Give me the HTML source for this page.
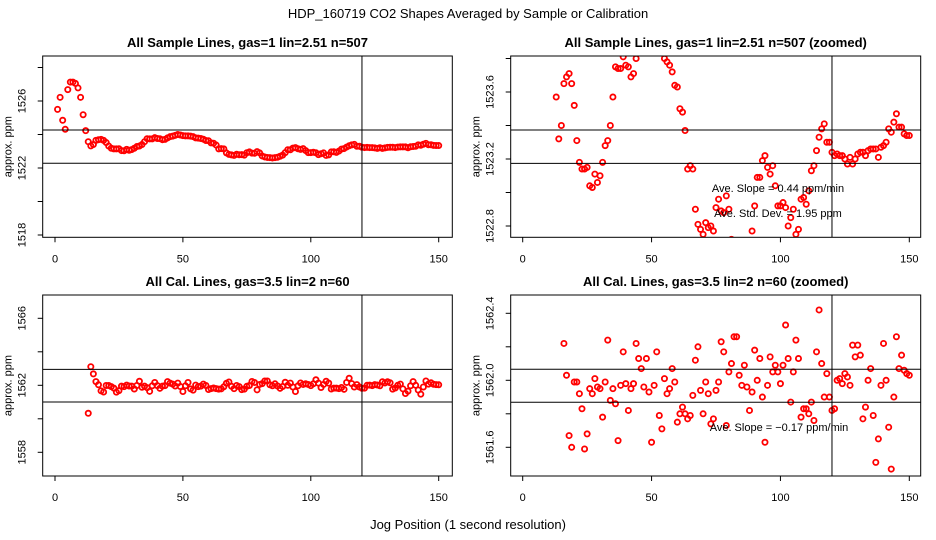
<!DOCTYPE html>
<html><head><meta charset="utf-8"><style>
html,body{margin:0;padding:0;background:#fff;width:936px;height:540px;overflow:hidden;}
svg{display:block;font-family:"Liberation Sans",Arial,sans-serif;}
</style></head><body>
<svg id="chart" width="936" height="540" xmlns="http://www.w3.org/2000/svg">
<text x="468" y="18" text-anchor="middle" font-size="13">HDP_160719  CO2 Shapes Averaged by Sample or Calibration</text>
<text x="468" y="529" text-anchor="middle" font-size="13">Jog Position (1 second resolution)</text>
</svg>
<script>
// Sample data (x = 1..150)
const sampleX = [];
for (let i = 1; i <= 150; i++) sampleX.push(i);
const sampleY = [1525.50,1526.22,1524.85,1524.31,1526.68,1527.13,1527.13,1527.05,1526.78,1526.22,
1525.18,1524.23,1523.57,1523.32,1523.40,1523.65,1523.69,1523.71,1523.65,1523.52,
1523.31,1523.18,1523.14,1523.14,1523.15,1523.04,1523.03,1523.11,1523.06,1523.10,
1523.18,1523.28,1523.31,1523.40,1523.57,1523.75,1523.74,1523.74,1523.81,1523.76,
1523.75,1523.69,1523.71,1523.80,1523.87,1523.90,1523.95,1524.00,1523.97,1523.93,
1523.92,1523.92,1523.90,1523.87,1523.80,1523.78,1523.76,1523.72,1523.64,1523.63,
1523.50,1523.48,1523.37,1523.14,1523.16,1523.14,1522.90,1522.81,1522.78,1522.75,
1522.82,1522.79,1522.80,1522.77,1522.91,1522.96,1522.89,1522.88,1522.98,1522.90,
1522.72,1522.66,1522.63,1522.62,1522.60,1522.62,1522.64,1522.70,1522.77,1522.92,
1523.09,1523.09,1523.19,1523.22,1523.15,1523.11,1523.16,1523.04,1522.92,1522.92,
1522.94,1522.91,1522.80,1522.85,1522.90,1522.75,1522.78,1522.96,1522.97,1522.93,
1523.01,1523.13,1523.16,1523.25,1523.33,1523.38,1523.41,1523.30,1523.30,1523.24,
1523.22,1523.23,1523.22,1523.22,1523.20,1523.17,1523.21,1523.17,1523.20,1523.23,
1523.24,1523.24,1523.22,1523.25,1523.26,1523.26,1523.26,1523.21,1523.27,1523.28,
1523.30,1523.38,1523.36,1523.42,1523.47,1523.39,1523.39,1523.35,1523.34,1523.34];
// Calibration data (x = 13..150)
const calX = [];
for (let i = 13; i <= 150; i++) calX.push(i);
const calY = [1560.33,1563.11,1562.68,1562.22,1562.03,1561.67,1561.60,1561.99,1561.99,1561.92,
1561.83,1561.59,1561.68,1561.95,1561.92,1562.01,1561.96,1561.95,1561.78,1561.99,
1562.24,1561.88,1561.95,1561.86,1561.64,1561.97,1562.17,1561.98,1561.82,1561.95,
1561.98,1562.22,1562.13,1562.07,1561.96,1562.13,1561.93,1561.63,1561.97,1562.17,
1561.79,1561.71,1562.01,1561.92,1561.95,1562.07,1561.99,1561.75,1561.80,1561.84,
1561.80,1561.77,1561.79,1561.91,1562.12,1562.20,1561.94,1561.80,1561.99,1561.92,
1561.74,1561.77,1561.94,1561.99,1562.23,1562.17,1561.73,1562.05,1562.10,1562.26,
1562.26,1562.03,1561.97,1562.09,1561.96,1561.82,1561.93,1562.18,1562.00,1562.13,
1561.90,1561.63,1561.97,1562.14,1562.05,1562.09,1562.05,1561.98,1562.09,1562.33,
1562.13,1561.87,1562.05,1562.24,1562.13,1561.78,1561.83,1561.83,1561.80,1561.87,
1561.76,1562.17,1562.42,1562.10,1561.90,1562.04,1561.90,1561.82,1561.83,1562.00,
1562.01,1561.98,1562.04,1562.02,1561.97,1562.21,1562.14,1562.21,1562.15,1561.77,
1561.84,1562.00,1562.07,1561.79,1561.51,1561.65,1561.97,1562.22,1562.00,1561.72,
1561.47,1561.90,1562.26,1562.07,1562.15,1562.06,1562.04,1562.03];
const xTicks = [0, 50, 100, 150];
const p1Ticks = [1518,1520,1522,1524,1526,1528];
const p1Labels = [1518,1522,1526];
const p1HLines = [1524.27, 1522.28];
const p2Ticks = [1522.8,1523.0,1523.2,1523.4,1523.6,1523.8];
const p2Labels = ["1522.8","1523.2","1523.6"];
const p2HLines = [1523.373, 1523.174];
const p3Ticks = [1558,1560,1562,1564,1566];
const p3Labels = [1558,1562,1566];
const p3HLines = [1562.95, 1561.0];
const p4Ticks = [1561.6,1561.8,1562.0,1562.2,1562.4];
const p4Labels = ["1561.6","1562.0","1562.4"];
const p4HLines = [1562.066, 1561.869];
const vLineX = 120;

const NS = "http://www.w3.org/2000/svg";
const svg = document.getElementById("chart");
function mk(tag, attrs, parent) {
  const e = document.createElementNS(NS, tag);
  for (const k in attrs) e.setAttribute(k, attrs[k]);
  (parent || svg).appendChild(e);
  return e;
}

const panels = [
  {id:"p1", title:"All Sample Lines, gas=1 lin=2.51 n=507", L:42.7, R:452.3, T:56, B:237.3,
   x0:55, x1:438.7, yA:1522, pyA:168, yB:1526, pyB:101, xs:sampleX, ys:sampleY,
   ticks:p1Ticks, labels:p1Labels, hl:p1HLines, ann:[]},
  {id:"p2", title:"All Sample Lines, gas=1 lin=2.51 n=507 (zoomed)", L:510.7, R:920.7, T:56, B:237.3,
   x0:522.7, x1:909.3, yA:1523.2, pyA:159, yB:1523.6, pyB:92, xs:sampleX, ys:sampleY,
   ticks:p2Ticks, labels:p2Labels, hl:p2HLines,
   ann:[["Ave. Slope =  0.44  ppm/min",778,192,"slope-annotation"],["Ave. Std. Dev. =  1.95  ppm",778,217,"stddev-annotation"]]},
  {id:"p3", title:"All Cal. Lines, gas=3.5 lin=2 n=60", L:42.7, R:452.3, T:295, B:476,
   x0:55, x1:438.7, yA:1562, pyA:385.3, yB:1566, pyB:318.3, xs:calX, ys:calY,
   ticks:p3Ticks, labels:p3Labels, hl:p3HLines, ann:[]},
  {id:"p4", title:"All Cal. Lines, gas=3.5 lin=2 n=60 (zoomed)", L:510.7, R:920.7, T:295, B:476,
   x0:522.7, x1:909.3, yA:1562.0, pyA:380.3, yB:1562.4, pyB:313.3, xs:calX, ys:calY,
   ticks:p4Ticks, labels:p4Labels, hl:p4HLines,
   ann:[["Ave. Slope =  \u22120.17  ppm/min",779,431,"slope-annotation"]]}
];

panels.forEach(p => {
  const sx = v => p.x0 + (v - 0) * (p.x1 - p.x0) / 150;
  const sy = v => p.pyA + (v - p.yA) * (p.pyB - p.pyA) / (p.yB - p.yA);
  const g = mk("g", {});
  
  
  const t = mk("text", {x:(p.L+p.R)/2, y:p.T-9, "text-anchor":"middle", "font-size":"13", "font-weight":"bold"}, g);
  t.textContent = p.title;
  
  
  const cp = mk("clipPath", {id:"clip-"+p.id}, g);
  mk("rect", {x:p.L, y:p.T, width:p.R-p.L, height:p.B-p.T}, cp);
  const pg = mk("g", {"clip-path":"url(#clip-"+p.id+")"}, g);
  
  
  p.xs.forEach((xv, i) => {
    const c = mk("circle", {cx:sx(xv), cy:sy(p.ys[i]), r:2.6, fill:"none", stroke:"#ff0000", "stroke-width":1.8}, pg);
    
    
  });
  p.hl.forEach(v => {
    const l = mk("line", {x1:p.L, x2:p.R, y1:sy(v), y2:sy(v), stroke:"#000", "stroke-width":1}, g);
    
    
  });
  const vl = mk("line", {x1:sx(vLineX), x2:sx(vLineX), y1:p.T, y2:p.B, stroke:"#000", "stroke-width":1}, g);
  
  
  const box = mk("rect", {x:p.L, y:p.T, width:p.R-p.L, height:p.B-p.T, fill:"none", stroke:"#000", "stroke-width":1}, g);
  
  
  xTicks.forEach(v => {
    const X = sx(v);
    mk("line", {x1:X, x2:X, y1:p.B, y2:p.B+5, stroke:"#000"}, g);
    const tl = mk("text", {x:X, y:p.B+25, "text-anchor":"middle", "font-size":"11"}, g);
    tl.textContent = v;
    
    
  });
  p.ticks.forEach(v => {
    const Y = sy(v);
    mk("line", {x1:p.L-5, x2:p.L, y1:Y, y2:Y, stroke:"#000"}, g);
  });
  p.labels.forEach(v => {
    const Y = sy(parseFloat(v));
    const yl = mk("text", {x:0, y:0, "text-anchor":"middle", "font-size":"11",
      transform:"translate("+(p.L-17)+","+Y+") rotate(-90)"}, g);
    yl.textContent = v;
    
    
  });
  const yt = mk("text", {x:0, y:0, "text-anchor":"middle", "font-size":"11",
    transform:"translate("+(p.L-31)+","+((p.T+p.B)/2)+") rotate(-90)"}, g);
  yt.textContent = "approx. ppm";
  
  
  p.ann.forEach(a => {
    const at = mk("text", {x:a[1], y:a[2], "text-anchor":"middle", "font-size":"11"}, g);
    at.textContent = a[0];
    
    
  });
});
</script>
</body></html>
